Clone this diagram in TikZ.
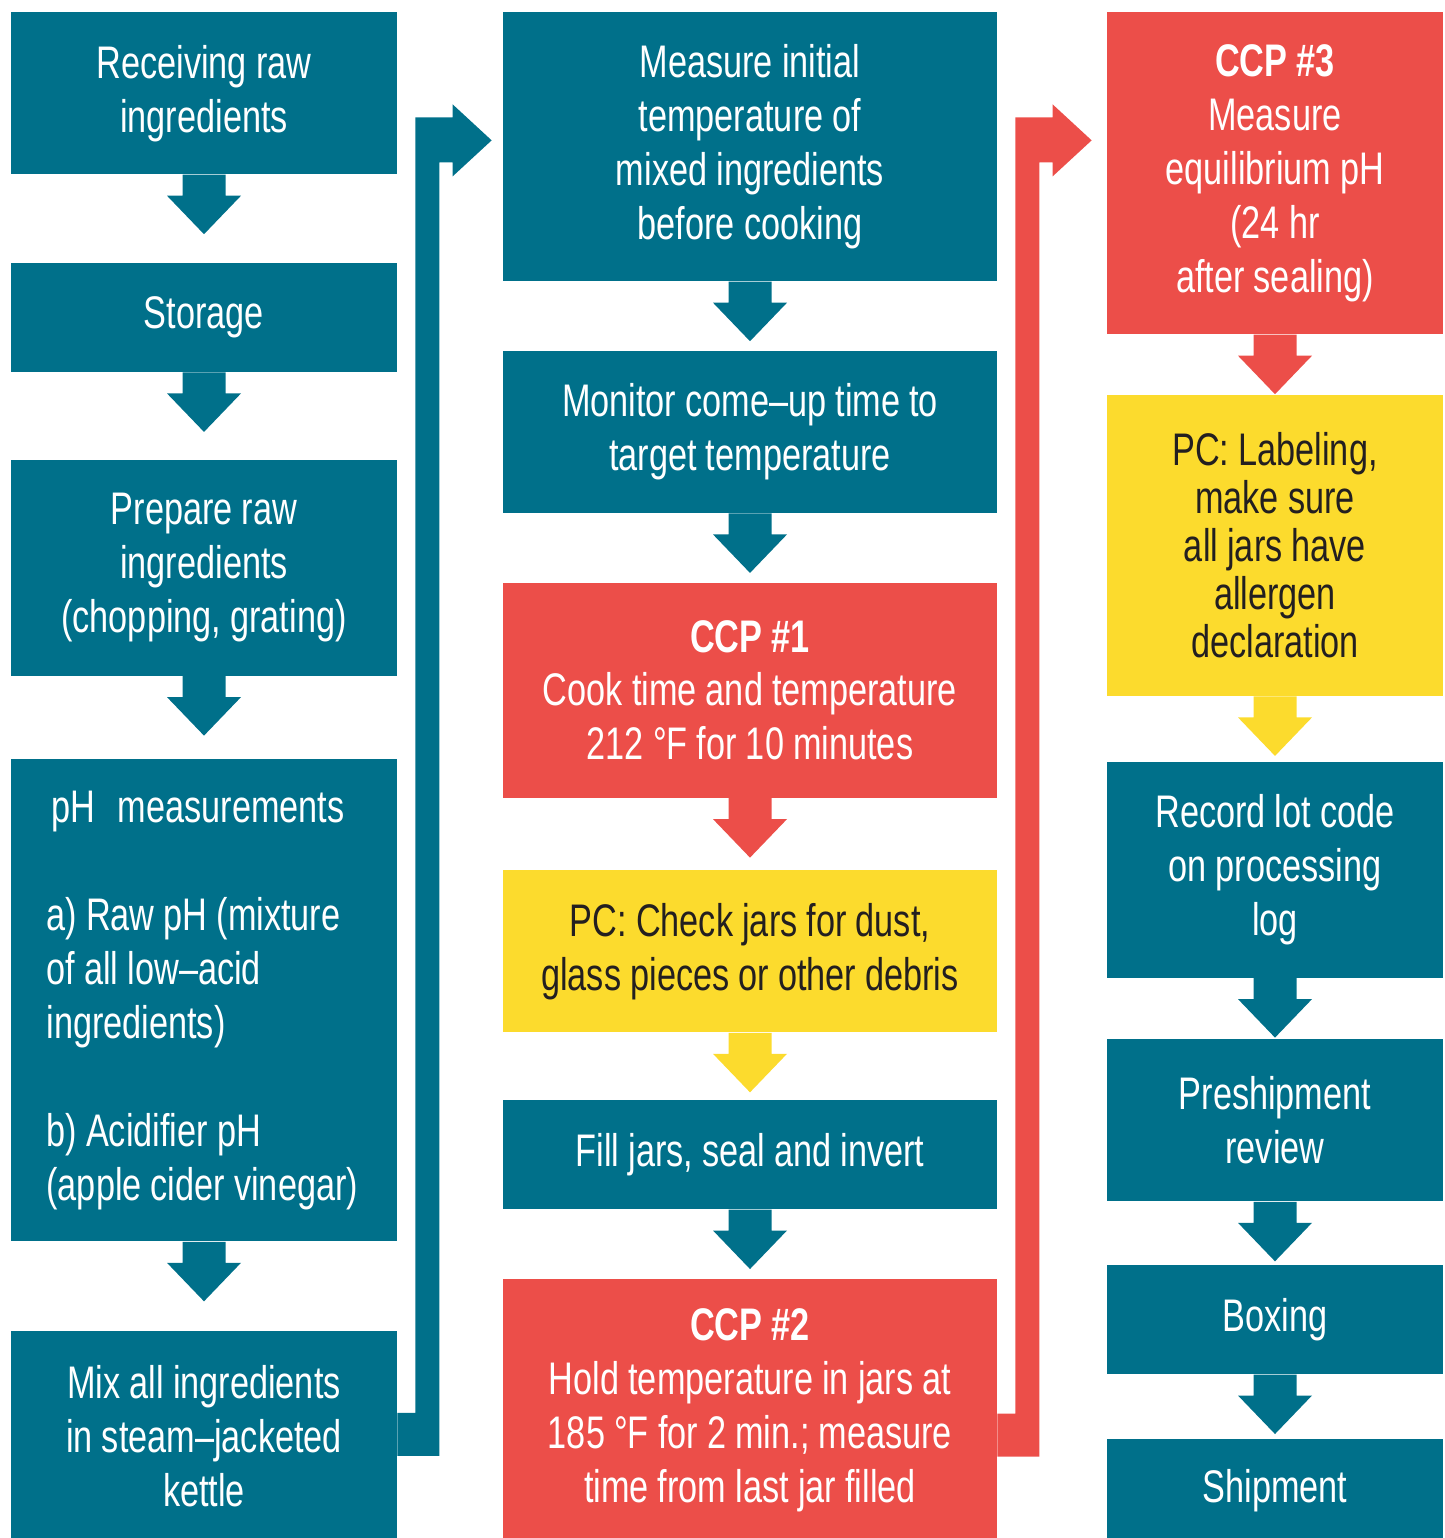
\documentclass[tikz,border=0pt]{standalone}
\usepackage{fontspec}
\setmainfont[FakeStretch=0.75]{Liberation Sans}
\usetikzlibrary{positioning,calc}

\definecolor{haccpteal}{HTML}{00708A}
\definecolor{haccpred}{HTML}{EC4E49}
\definecolor{haccpyellow}{HTML}{FCDB2D}
\definecolor{haccpdark}{HTML}{231F20}

\begin{document}
\begin{tikzpicture}[
    block/.style={rectangle, fill=haccpteal, text=white, inner sep=0pt, align=center, anchor=north,
        font=\fontsize{26}{30.7}\selectfont, execute at begin node={\spaceskip=0.2em\relax}},
    ccp/.style={block, fill=haccpred},
    pc/.style={block, fill=haccpyellow, text=haccpdark},
    colone/.style={minimum width=7.72cm, text width=7.3cm},
    coltwo/.style={minimum width=9.88cm, text width=9.4cm},
    colthree/.style={minimum width=6.72cm, text width=6.4cm},
    downarr/.pic={\fill (-0.43,0) -- (-0.43,-0.42) -- (-0.74,-0.42) -- (0,-1.19) -- (0.74,-0.42) -- (0.43,-0.42) -- (0.43,0) -- cycle;}
]
\useasboundingbox (0,0) rectangle (28.88,-30.76);

% Receiving and preparation
\node[block, colone, minimum height=3.24cm] (recv) at (4.08,-0.24) {Receiving raw\\ingredients};
\node[block, colone, minimum height=2.18cm, below=1.76cm of recv] (storage) {Storage};
\node[block, colone, minimum height=4.32cm, below=1.74cm of storage] (prep) {Prepare raw\\ingredients\\(chopping, grating)};
\node[block, colone, minimum height=9.64cm, below=1.66cm of prep, text width=6.3cm, align=left] (phmeas)
    {\hspace*{0.1cm}pH\hspace{0.45cm}measurements\\[30.7pt]
     a) Raw pH (mixture\\of all low–acid\\ingredients)\\[30.7pt]
     b) Acidifier pH\\(apple cider vinegar)};
\node[block, colone, minimum height=4.2cm, below=1.78cm of phmeas] (mix) {Mix all ingredients\\in steam–jacketed\\kettle};

% Cooking and filling
\node[block, coltwo, minimum height=5.38cm] (measure) at (15.0,-0.24) {Measure initial\\temperature of\\mixed ingredients\\before cooking};
\node[block, coltwo, minimum height=3.24cm, below=1.38cm of measure] (monitor) {Monitor come–up time to\\target temperature};
\node[ccp, coltwo, minimum height=4.3cm, below=1.38cm of monitor] (ccpone) {\textbf{CCP \#1}\\Cook time and temperature\\212 °F for 10 minutes};
\node[pc, coltwo, minimum height=3.24cm, below=1.44cm of ccpone] (pccheck) {PC: Check jars for dust,\\glass pieces or other debris};
\node[block, coltwo, minimum height=2.18cm, below=1.34cm of pccheck] (filljars) {Fill jars, seal and invert};
\node[ccp, coltwo, minimum height=5.26cm, below=1.38cm of filljars] (ccptwo) {\textbf{CCP \#2}\\Hold temperature in jars at\\185 °F for 2 min.; measure\\time from last jar filled};

% Checking and shipping
\node[ccp, colthree, minimum height=6.44cm] (ccpthree) at (25.5,-0.24) {\textbf{CCP \#3}\\Measure\\equilibrium pH\\(24 hr\\after sealing)};
\node[pc, colthree, minimum height=6.02cm, below=1.2cm of ccpthree, font=\fontsize{26}{27.3}\selectfont] (pclabel) {PC: Labeling,\\make sure\\all jars have\\allergen\\declaration};
\node[block, colthree, minimum height=4.32cm, below=1.3cm of pclabel] (record) {Record lot code\\on processing\\log};
\node[block, colthree, minimum height=3.24cm, below=1.22cm of record] (preship) {Preshipment\\review};
\node[block, colthree, minimum height=2.18cm, below=1.26cm of preship] (boxing) {Boxing};
\node[block, colthree, minimum height=2.06cm, below=1.28cm of boxing] (ship) {Shipment};

% Arrows
\pic[haccpteal] at (recv.south) {downarr};
\pic[haccpteal] at (storage.south) {downarr};
\pic[haccpteal] at (prep.south) {downarr};
\pic[haccpteal] at (phmeas.south) {downarr};
\pic[haccpteal] at (measure.south) {downarr};
\pic[haccpteal] at (monitor.south) {downarr};
\pic[haccpred] at (ccpone.south) {downarr};
\pic[haccpyellow] at (pccheck.south) {downarr};
\pic[haccpteal] at (filljars.south) {downarr};
\pic[haccpred] at (ccpthree.south) {downarr};
\pic[haccpyellow] at (pclabel.south) {downarr};
\pic[haccpteal] at (record.south) {downarr};
\pic[haccpteal] at (preship.south) {downarr};
\pic[haccpteal] at (boxing.south) {downarr};

% Column links
\coordinate (tiptwo) at ([xshift=-0.22cm, yshift=0.13cm]measure.west);
\fill[haccpteal] ([yshift=-1.64cm]mix.north east) -- ++(0.36,0)
    |- ([xshift=-0.78cm, yshift=0.46cm]tiptwo) -- ++(0,0.26) -- (tiptwo)
    -- ++(-0.78,-0.72) -- ++(0,0.28) -| ([xshift=0.84cm, yshift=-2.5cm]mix.north east)
    -- ([yshift=-2.5cm]mix.north east) -- cycle;
\coordinate (tipthree) at ([xshift=-0.3cm, yshift=0.66cm]ccpthree.west);
\fill[haccpred] ([yshift=-2.7cm]ccptwo.north east) -- ++(0.36,0)
    |- ([xshift=-0.78cm, yshift=0.46cm]tipthree) -- ++(0,0.26) -- (tipthree)
    -- ++(-0.78,-0.72) -- ++(0,0.28) -| ([xshift=0.84cm, yshift=-3.56cm]ccptwo.north east)
    -- ([yshift=-3.56cm]ccptwo.north east) -- cycle;

\end{tikzpicture}
\end{document}
